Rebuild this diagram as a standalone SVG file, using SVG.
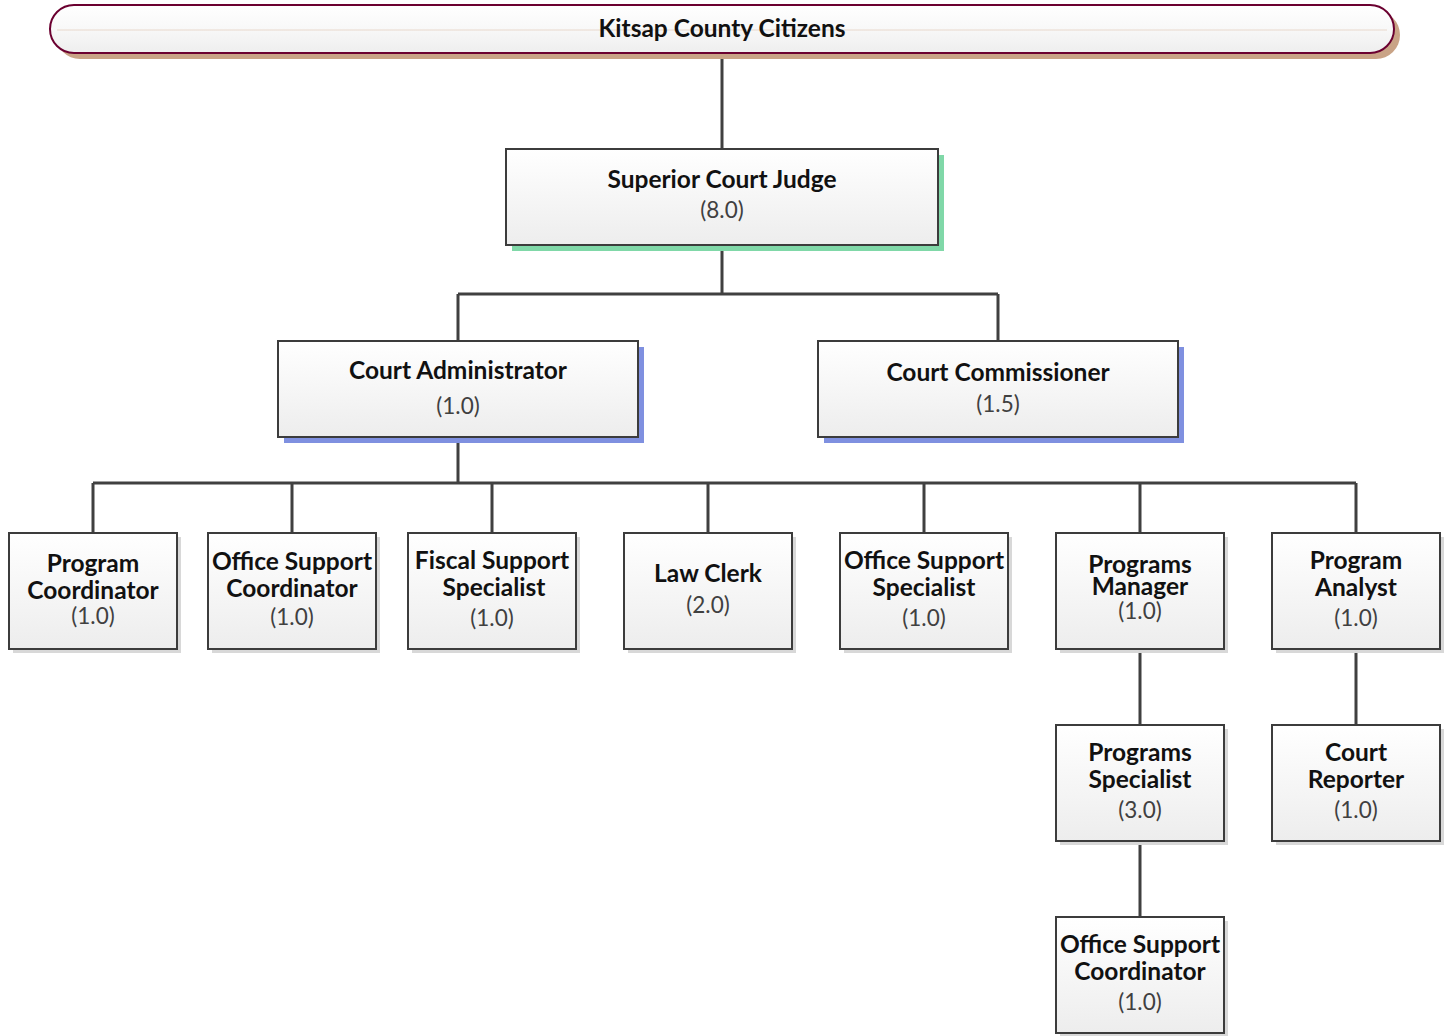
<svg xmlns="http://www.w3.org/2000/svg" width="1448" height="1036" viewBox="0 0 1448 1036">
<defs>
<linearGradient id="g" x1="0" y1="0" x2="0" y2="1">
<stop offset="0" stop-color="#ffffff"/>
<stop offset="1" stop-color="#ededed"/>
</linearGradient>
<linearGradient id="gt" x1="0" y1="0" x2="0" y2="1">
<stop offset="0" stop-color="#ffffff"/>
<stop offset="0.5" stop-color="#f8f8f8"/>
<stop offset="1" stop-color="#eeeeee"/>
</linearGradient>
</defs>
<style>
.box{fill:url(#g);stroke:#3c3c3c;stroke-width:2}
.sh{fill:#d8d8d8}
.t{font-family:Lato,"Open Sans","DejaVu Sans",sans-serif;font-weight:bold;font-size:24.5px;fill:#111;text-anchor:middle}
.n{font-family:Lato,"Open Sans","DejaVu Sans",sans-serif;font-size:22.5px;fill:#404040;text-anchor:middle}
.c{stroke:#404040;stroke-width:3;fill:none}
</style>
<g id="connectors">
<path class="c" d="M722 53V149"/>
<path class="c" d="M722 245V294M458 294H998M458 294V341M998 294V341"/>
<path class="c" d="M458 437V483M93 483H1356M93 483V533M292 483V533M492 483V533M708 483V533M924 483V533M1140 483V533M1356 483V533"/>
<path class="c" d="M1140 649V725M1140 841V917M1356 649V725"/>
</g>
<g id="citizens">
<rect x="56" y="11" width="1344" height="48" rx="24" fill="#c9a386"/>
<rect x="50" y="5" width="1344" height="48" rx="24" fill="url(#gt)" stroke="#6b0030" stroke-width="2"/>
<line x1="57" y1="30" x2="1387" y2="30" stroke="#e8d8cc" stroke-width="1"/>
<text class="t" x="722" y="37">Kitsap County Citizens</text>
</g>
<g id="judge">
<rect x="512" y="155" width="432" height="96" fill="#80d8a8"/>
<rect class="box" x="506" y="149" width="432" height="96"/>
<text class="t" x="722" y="188">Superior Court Judge</text>
<text class="n" x="722" y="218">(8.0)</text>
</g>
<g id="admin">
<rect x="284" y="347" width="360" height="96" fill="#7f90e0"/>
<rect class="box" x="278" y="341" width="360" height="96"/>
<text class="t" x="458" y="379">Court Administrator</text>
<text class="n" x="458" y="414">(1.0)</text>
</g>
<g id="commissioner">
<rect x="824" y="347" width="360" height="96" fill="#7f90e0"/>
<rect class="box" x="818" y="341" width="360" height="96"/>
<text class="t" x="998" y="381">Court Commissioner</text>
<text class="n" x="998" y="412">(1.5)</text>
</g>
<g id="program-coordinator">
<rect class="sh" x="13" y="537" width="168" height="116"/>
<rect class="box" x="9" y="533" width="168" height="116"/>
<text class="t" x="93" y="572">Program</text>
<text class="t" x="93" y="599">Coordinator</text>
<text class="n" x="93" y="624">(1.0)</text>
</g>
<g id="office-support-coordinator-1">
<rect class="sh" x="212" y="537" width="168" height="116"/>
<rect class="box" x="208" y="533" width="168" height="116"/>
<text class="t" x="292" y="570">Office Support</text>
<text class="t" x="292" y="597">Coordinator</text>
<text class="n" x="292" y="625">(1.0)</text>
</g>
<g id="fiscal-support-specialist">
<rect class="sh" x="412" y="537" width="168" height="116"/>
<rect class="box" x="408" y="533" width="168" height="116"/>
<text class="t" x="492" y="569">Fiscal Support</text>
<text class="t" x="494" y="596">Specialist</text>
<text class="n" x="492" y="626">(1.0)</text>
</g>
<g id="law-clerk">
<rect class="sh" x="628" y="537" width="168" height="116"/>
<rect class="box" x="624" y="533" width="168" height="116"/>
<text class="t" x="708" y="582">Law Clerk</text>
<text class="n" x="708" y="613">(2.0)</text>
</g>
<g id="office-support-specialist">
<rect class="sh" x="844" y="537" width="168" height="116"/>
<rect class="box" x="840" y="533" width="168" height="116"/>
<text class="t" x="924" y="569">Office Support</text>
<text class="t" x="924" y="596">Specialist</text>
<text class="n" x="924" y="626">(1.0)</text>
</g>
<g id="programs-manager">
<rect class="sh" x="1060" y="537" width="168" height="116"/>
<rect class="box" x="1056" y="533" width="168" height="116"/>
<text class="t" x="1140" y="573">Programs</text>
<text class="t" x="1140" y="595">Manager</text>
<text class="n" x="1140" y="619">(1.0)</text>
</g>
<g id="program-analyst">
<rect class="sh" x="1276" y="537" width="168" height="116"/>
<rect class="box" x="1272" y="533" width="168" height="116"/>
<text class="t" x="1356" y="569">Program</text>
<text class="t" x="1356" y="596">Analyst</text>
<text class="n" x="1356" y="626">(1.0)</text>
</g>
<g id="programs-specialist">
<rect class="sh" x="1060" y="729" width="168" height="116"/>
<rect class="box" x="1056" y="725" width="168" height="116"/>
<text class="t" x="1140" y="761">Programs</text>
<text class="t" x="1140" y="788">Specialist</text>
<text class="n" x="1140" y="818">(3.0)</text>
</g>
<g id="court-reporter">
<rect class="sh" x="1276" y="729" width="168" height="116"/>
<rect class="box" x="1272" y="725" width="168" height="116"/>
<text class="t" x="1356" y="761">Court</text>
<text class="t" x="1356" y="788">Reporter</text>
<text class="n" x="1356" y="818">(1.0)</text>
</g>
<g id="office-support-coordinator-2">
<rect class="sh" x="1060" y="921" width="168" height="116"/>
<rect class="box" x="1056" y="917" width="168" height="116"/>
<text class="t" x="1140" y="953">Office Support</text>
<text class="t" x="1140" y="980">Coordinator</text>
<text class="n" x="1140" y="1010">(1.0)</text>
</g>
</svg>
